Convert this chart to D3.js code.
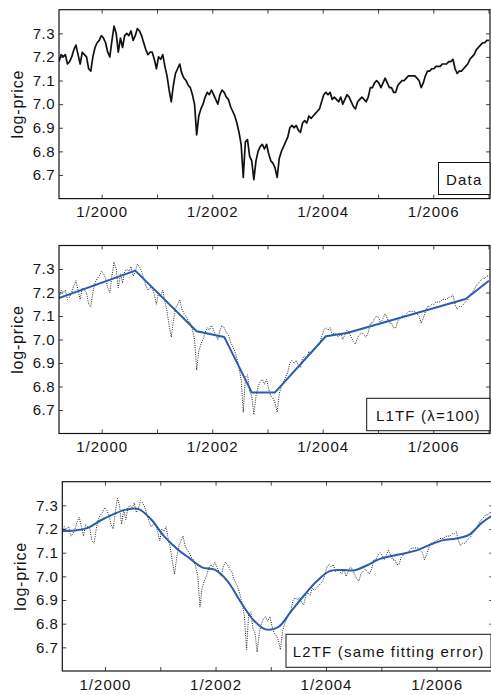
<!DOCTYPE html>
<html>
<head>
<meta charset="utf-8">
<script src="https://cdn.jsdelivr.net/npm/d3@7"></script>
<style>
  html, body { margin: 0; padding: 0; background: #fff; }
  svg { display: block; }
  text { font-family: "Liberation Sans", Arial, Helvetica, sans-serif; }
</style>
</head>
<body>
<svg id="chart" width="491" height="695"></svg>
<script>
// ---------------- data ----------------
const startDate = "1999-03-25";   // first sample
const stepDays = 14;              // samples every two weeks

// log of the S&P 500 index
const logPrice = [
  7.18, 7.21, 7.20, 7.21, 7.17, 7.18, 7.20, 7.23, 7.25, 7.21,
  7.17, 7.22, 7.21, 7.20, 7.15, 7.14, 7.20, 7.24, 7.26, 7.27,
  7.29, 7.28, 7.26, 7.22, 7.20, 7.27, 7.33, 7.30, 7.22, 7.28,
  7.24, 7.29, 7.30, 7.29, 7.31, 7.27, 7.29, 7.32, 7.31, 7.29,
  7.26, 7.23, 7.21, 7.22, 7.22, 7.19, 7.15, 7.20, 7.19, 7.21,
  7.16, 7.12, 7.06, 7.01, 7.08, 7.13, 7.15, 7.17, 7.13, 7.11,
  7.10, 7.08, 7.07, 7.04, 7.00, 6.87, 6.95, 6.98, 7.00, 7.03,
  7.05, 7.04, 7.06, 7.04, 7.02, 7.00, 7.04, 7.06, 7.05, 7.03,
  7.02, 6.99, 6.97, 6.95, 6.92, 6.88, 6.83, 6.69, 6.84, 6.85,
  6.78, 6.76, 6.68, 6.76, 6.80, 6.82, 6.83, 6.81, 6.83, 6.79,
  6.76, 6.75, 6.73, 6.69, 6.77, 6.80, 6.82, 6.84, 6.86, 6.90,
  6.91, 6.90, 6.91, 6.89, 6.88, 6.92, 6.93, 6.92, 6.95, 6.94,
  6.95, 6.96, 6.97, 6.98, 7.01, 7.04, 7.05, 7.04, 7.05, 7.02,
  7.03, 7.02, 7.01, 7.03, 7.00, 7.02, 7.04, 7.03, 7.01, 6.99,
  6.98, 7.01, 7.02, 7.03, 7.02, 7.01, 7.03, 7.07, 7.07, 7.09,
  7.10, 7.09, 7.07, 7.09, 7.11, 7.09, 7.07, 7.07, 7.05, 7.05,
  7.08, 7.09, 7.10, 7.10, 7.11, 7.12, 7.12, 7.12, 7.12, 7.11,
  7.10, 7.07, 7.09, 7.12, 7.14, 7.14, 7.15, 7.15, 7.16, 7.16,
  7.16, 7.17, 7.17, 7.17, 7.18, 7.18, 7.19, 7.15, 7.13, 7.14,
  7.14, 7.15, 7.16, 7.17, 7.19, 7.20, 7.21, 7.23, 7.24, 7.25,
  7.26, 7.26, 7.27, 7.27
];

// L1 trend filter (lambda = 100): kink positions (sample index) and values
const l1tfIndex = [0, 36, 65, 78, 91, 102, 126, 136, 192, 203];
const l1tfValue = [7.176, 7.293, 7.035, 7.011, 6.775, 6.775, 7.014, 7.028, 7.172, 7.250];

// L2 (Hodrick-Prescott) trend, read at these sample indices
const l2tfIndex = [0, 6, 12, 18, 24, 30, 36, 42, 48, 54, 60, 66, 72, 78, 84, 90,
  96, 102, 108, 114, 120, 126, 132, 138, 144, 150, 156, 162, 168, 174, 180, 186, 192, 198, 203];
const l2tfValue = [7.192, 7.194, 7.205, 7.236, 7.262, 7.282, 7.284, 7.240, 7.170, 7.118,
  7.077, 7.038, 7.028, 6.980, 6.895, 6.818, 6.776, 6.786, 6.852, 6.918,
  6.978, 7.021, 7.027, 7.026, 7.047, 7.074, 7.087, 7.098, 7.112, 7.135,
  7.153, 7.160, 7.175, 7.226, 7.257];

const yTicks = [6.7, 6.8, 6.9, 7.0, 7.1, 7.2, 7.3];
const yDomain = [6.6, 7.4];
const tickYears = [2000, 2001, 2002, 2003, 2004, 2005, 2006, 2007];
const labelYears = [2000, 2002, 2004, 2006];
const panelNames = ["Data", "L1TF (\u03bb=100)", "L2TF (same fitting error)"];
const yTitle = "log-price";
const timeDomain = ["1999-03-25", "2007-01-11"];

// ---------------- layout ----------------
const panels = [
  { left: 59,   right: 490,   top: 9.7,   bottom: 198.6, box: [438.5, 162.5, 51.5, 32],  trend: null },
  { left: 59,   right: 490,   top: 245.5, bottom: 433.5, box: [366.7, 398.3, 123.3, 32.4], trend: "l1" },
  { left: 62.3, right: 493.3, top: 481.7, bottom: 671,   box: [286, 634.3, 205, 33],      trend: "l2" }
];

const parse = d3.utcParse("%Y-%m-%d");
const t0 = parse(startDate);
const dateAt = i => d3.utcDay.offset(t0, i * stepDays);
const series = logPrice.map((v, i) => ({ date: dateAt(i), v }));
const l1 = l1tfIndex.map((k, j) => ({ date: dateAt(k), v: l1tfValue[j] }));
const l2 = l2tfIndex.map((k, j) => ({ date: dateAt(k), v: l2tfValue[j] }));

const svg = d3.select("#chart");
const ink = "#141414";
const blue = "#2b5cb0";

panels.forEach((p, pi) => {
  const x = d3.scaleUtc().domain(timeDomain.map(parse)).range([p.left, p.right]);
  const y = d3.scaleLinear().domain(yDomain).range([p.bottom, p.top]);
  const g = svg.append("g");
  const clipId = "clip" + pi;
  svg.append("clipPath").attr("id", clipId)
    .append("rect").attr("x", p.left).attr("y", p.top)
    .attr("width", p.right - p.left).attr("height", p.bottom - p.top);

  const line = d3.line().x(d => x(d.date)).y(d => y(d.v));

  // data line
  const dataPath = g.append("path").datum(series)
    .attr("clip-path", `url(#${clipId})`)
    .attr("fill", "none")
    .attr("d", line);
  if (pi === 0) {
    dataPath.attr("stroke", "#111").attr("stroke-width", 1.7).attr("stroke-linejoin", "round");
  } else {
    dataPath.attr("stroke", "#222").attr("stroke-width", 1).attr("stroke-dasharray", "1,1.3");
  }

  // trend line
  if (p.trend === "l1") {
    g.append("path").datum(l1).attr("clip-path", `url(#${clipId})`)
      .attr("fill", "none").attr("stroke", blue).attr("stroke-width", 2)
      .attr("stroke-linejoin", "round")
      .attr("d", line);
  } else if (p.trend === "l2") {
    g.append("path").datum(l2).attr("clip-path", `url(#${clipId})`)
      .attr("fill", "none").attr("stroke", blue).attr("stroke-width", 2)
      .attr("d", d3.line().x(d => x(d.date)).y(d => y(d.v)).curve(d3.curveCatmullRom.alpha(0.5)));
  }

  // axes
  const tickDates = tickYears.map(yr => new Date(Date.UTC(yr, 0, 1)));
  const fmt = d => labelYears.includes(d.getUTCFullYear()) ? "1/" + d.getUTCFullYear() : "";

  const ax = g.append("g").attr("transform", `translate(0,${p.bottom})`)
    .call(d3.axisBottom(x).tickValues(tickDates).tickFormat(fmt).tickSizeInner(-4).tickSizeOuter(0).tickPadding(8));
  const axTop = g.append("g").attr("transform", `translate(0,${p.top})`)
    .call(d3.axisTop(x).tickValues(tickDates).tickFormat("").tickSizeInner(-4).tickSizeOuter(0));
  const ay = g.append("g").attr("transform", `translate(${p.left},0)`)
    .call(d3.axisLeft(y).tickValues(yTicks).tickFormat(d3.format(".1f")).tickSizeInner(-4).tickSizeOuter(0).tickPadding(4));
  const ayR = g.append("g").attr("transform", `translate(${p.right},0)`)
    .call(d3.axisRight(y).tickValues(yTicks).tickFormat("").tickSizeInner(-4).tickSizeOuter(0));

  [ax, axTop, ay, ayR].forEach(a => {
    a.select(".domain").remove();
    a.selectAll("line").attr("stroke", ink).attr("stroke-width", 0.8);
    a.selectAll("text").attr("fill", ink).attr("font-size", 15)
      .attr("font-family", "Liberation Sans, Arial, sans-serif");
  });
  ax.selectAll("text").attr("letter-spacing", "1px");
  ay.selectAll("text").attr("letter-spacing", "0.5px");

  // frame
  g.append("rect").attr("x", p.left).attr("y", p.top)
    .attr("width", p.right - p.left).attr("height", p.bottom - p.top)
    .attr("fill", "none").attr("stroke", ink).attr("stroke-width", 1.2);

  // y title
  g.append("text")
    .attr("transform", `translate(${p.left - 36},${(p.top + p.bottom) / 2}) rotate(-90)`)
    .attr("text-anchor", "middle")
    .attr("font-size", 16)
    .attr("letter-spacing", "0.8px")
    .attr("fill", ink)
    .text(yTitle);

  // legend box
  const [bx, by, bw, bh] = p.box;
  g.append("rect").attr("x", bx).attr("y", by).attr("width", bw).attr("height", bh)
    .attr("fill", "#fff").attr("stroke", ink).attr("stroke-width", 1);
  g.append("text").attr("x", bx + bw / 2).attr("y", by + bh / 2 + 6)
    .attr("text-anchor", "middle").attr("font-size", 15)
    .attr("letter-spacing", "1.2px")
    .attr("fill", ink).text(panelNames[pi]);
});
</script>
</body>
</html>
